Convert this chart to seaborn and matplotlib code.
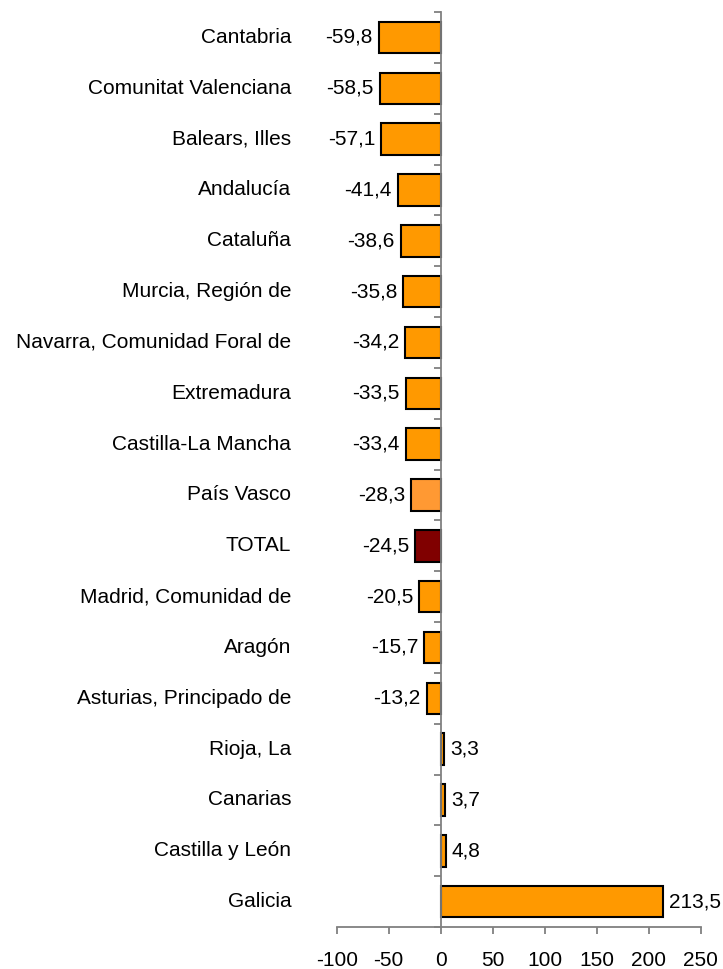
import numpy as np
import pandas as pd
import matplotlib
matplotlib.use("Agg")
import matplotlib.pyplot as plt
import matplotlib.transforms as mtransforms
import seaborn as sns

regions = ["Cantabria", "Comunitat Valenciana", "Balears, Illes", "Andalucía", "Cataluña",
           "Murcia, Región de", "Navarra, Comunidad Foral de", "Extremadura",
           "Castilla-La Mancha", "País Vasco", "TOTAL", "Madrid, Comunidad de", "Aragón",
           "Asturias, Principado de", "Rioja, La", "Canarias", "Castilla y León", "Galicia"]
values = [-59.8, -58.5, -57.1, -41.4, -38.6, -35.8, -34.2, -33.5, -33.4, -28.3, -24.5,
          -20.5, -15.7, -13.2, 3.3, 3.7, 4.8, 213.5]
x_ticks = [-100, -50, 0, 50, 100, 150, 200, 250]

base_color = "#FF9900"
special_colors = {"País Vasco": "#FF9933", "TOTAL": "#800000"}
palette = {r: special_colors.get(r, base_color) for r in regions}

df = pd.DataFrame({"region": regions, "value": values})

sns.set_style("white")
plt.rcParams["font.family"] = ["Liberation Sans", "DejaVu Sans"]
plt.rcParams["text.color"] = "black"
plt.rcParams["xtick.labelcolor"] = "black"
plt.rcParams["ytick.labelcolor"] = "black"

fig = plt.figure(figsize=(7.23, 9.69), dpi=100)
ax = fig.add_axes([0.4657, 0.0433, 0.5034, 0.9443])

sns.barplot(data=df, x="value", y="region", hue="region", palette=palette,
            order=regions, hue_order=regions, legend=False, dodge=False,
            width=0.62, edgecolor="black", linewidth=1.5, saturation=1, ax=ax)

ax.set_xlim(x_ticks[0], x_ticks[-1])
ax.set_xticks(x_ticks)
ax.set_xticklabels([str(t) for t in x_ticks], fontsize=15, color="black")
ax.set_xlabel("")
ax.set_ylabel("")

# y axis drawn at x = 0 with ticks at category boundaries
n = len(regions)
ax.set_ylim(n - 0.5, -0.5)
ax.set_yticks(np.arange(-0.5, n, 1.0))
ax.set_yticklabels([])
ax.spines["left"].set_position(("data", 0))
for s in ["top", "right"]:
    ax.spines[s].set_visible(False)
for s in ["left", "bottom"]:
    ax.spines[s].set_color("#808080")
    ax.spines[s].set_linewidth(1.3)
ax.tick_params(axis="y", direction="out", length=5, width=1.3, color="#808080", left=True)
ax.tick_params(axis="x", direction="out", length=5, width=1.3, color="#808080",
               bottom=True, pad=12)

# category labels
trans = mtransforms.blended_transform_factory(ax.transAxes, ax.transData)
for i, r in enumerate(regions):
    ax.text(-0.125, i, r, transform=trans, ha="right", va="center", fontsize=15,
            color="black")

# value labels
for p in ax.patches:
    w = p.get_width()
    if p.get_height() == 0 or np.isnan(w):
        continue
    yc = p.get_y() + p.get_height() / 2
    idx = int(round(yc))
    v = values[idx]
    txt = f"{v:.1f}".replace(".", ",")
    off = 4.5 if v >= 0 else -4.5
    ax.annotate(txt, xy=(v, yc), xytext=(off, 0), textcoords="offset points",
                ha="left" if v >= 0 else "right", va="center", fontsize=15,
                color="black")

fig.savefig("out.png", dpi=100)
